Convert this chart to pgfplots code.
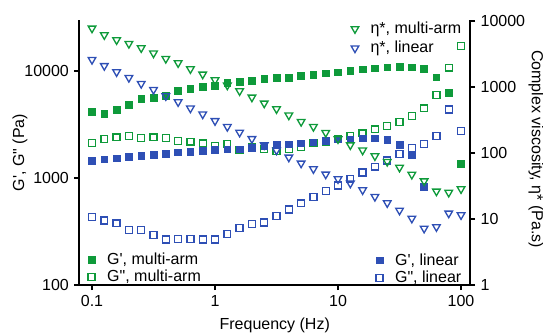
\documentclass[border=0pt]{standalone}
\usepackage{fontspec}
\newfontfamily\arial{Liberation Sans}
\usepackage{pgfplots}
\pgfplotsset{compat=1.18}
\usepackage{pgfplotstable}
\definecolor{mgreen}{RGB}{14,154,58}
\definecolor{lblue}{RGB}{46,79,181}

\pgfplotstableread{
f      Gm     Gpm    Gl    Gpl   Em    El
0.1    4140   2138   1442  432   7745  2592
0.1259 3963   2315   1495  402   6138  2095
0.1585 4323   2401   1528  377   5152  1687
0.1995 4814   2470   1582  326   4530  1383
0.2512 5474   2381   1616  326   3898  1122
0.3162 5593   2401   1641  293   3242  910
0.3981 5838   2381   1676  267   2684  731
0.5012 6505   2232   1739  268   2310  593
0.6310 6790   2185   1762  268   1874  476
0.7943 7087   2110   1788  267   1557  387
1      7290   1991   1827  267   1277  307
1.259  7723   2078   1854  300   1061  250
1.585  7946   1827   1854  339   870   205
1.995  8114   1950   1920  370   698   164
2.512  8420   1866   1983  384   566   132
3.162  8656   1800   2033  441   464   110
3.981  8656   1866   2065  508   373   86
5.012  8984   1962   2110  580   298   69.8
6.310  9180   2110   2157  664   250   57.3
7.943  9523   2185   2218  756   203   47.6
10     9720   2300   2300  851   163   40.4
12.59  10000  2470   2300  979   132   34.7
15.85  10375  2617   2350  1125  110   27.5
19.95  10600  2852   2350  1276  90    21.8
25.12  10834  3083   2265  1458  74    17.5
31.62  10965  3358   2033  1676  60.3  13.5
39.81  10834  3797   1630  1906  47.2  10.2
50.12  10440  4480   829   2078  37.6  7.2
63.10  8735   5970   nan   2470  26.3  7.6
79.43  6270   10740  nan   4368  25.2  12.2
100    1352   17230  nan   2749  28.5  11.5
}\data

\pgfplotsset{
  every axis/.append style={
    scale only axis, width=292.9pt, height=198.75pt,
    xmin=0.0791, xmax=118.4,
    xminorticks=false, yminorticks=false,
    tick align=outside, major tick length=3.75pt,
    major tick style={black, line width=1.4pt},
    axis line style={line width=1.5pt, black},
    tick label style={font=\arial\fontsize{12}{14}\selectfont},
    label style={font=\arial\fontsize{12}{14}\selectfont},
    legend style={draw=none, fill=none, font=\arial\fontsize{12}{14}\selectfont, row sep=-1.5pt, inner sep=0pt},
    legend cell align=left,
  },
}

\begin{document}
\arial\fontsize{12}{14}\selectfont
\begin{tikzpicture}
\path[use as bounding box] (-59.6pt,-36.75pt) rectangle (347.6pt,213.75pt);
% left axis: multi-arm moduli
\begin{loglogaxis}[
  ymin=100, ymax=29980,
  axis x line*=bottom, axis y line*=left,
  xtick={0.1,1,10,100}, xticklabels={0.1,1,10,100},
  ytick={100,1000,10000}, yticklabels={100,1000,10000},
  xlabel={Frequency (Hz)}, ylabel={G', G" (Pa)},
  every axis x label/.style={at={(axis description cs:0.5,-0.151)}, anchor=center},
  every axis y label/.style={at={(axis description cs:-0.152,0.5)}, rotate=90, anchor=center},
  legend image code/.code={\draw[#1] plot coordinates {(0pt,0pt)}; \path (-4pt,0pt) (9.5pt,0pt);},
  legend style={at={(axis description cs:0.016,-0.007)}, anchor=south west},
]
\addplot[only marks, mark=square*, mark size=2.5pt, mgreen, mark options={draw=mgreen, fill=mgreen, line width=0.5pt}] table[x=f, y=Gm] {\data};
\addlegendentry{G', multi-arm}
\addplot[only marks, mark=square, mark size=2.6pt, mgreen, mark options={draw=mgreen, line width=1pt}] table[x=f, y=Gpm] {\data};
\addlegendentry{G", multi-arm}
\end{loglogaxis}
% linear moduli (same scale, hidden axis)
\begin{loglogaxis}[
  ymin=100, ymax=29980, hide axis,
  legend image code/.code={\draw[#1] plot coordinates {(0pt,0pt)}; \path (-4pt,0pt) (9.5pt,0pt);},
  legend style={at={(axis description cs:0.985,-0.010)}, anchor=south east},
]
\addplot[only marks, mark=square*, mark size=2.5pt, lblue, mark options={draw=lblue, fill=lblue, line width=0.5pt}] table[x=f, y=Gl] {\data};
\addlegendentry{G', linear}
\addplot[only marks, mark=square, mark size=2.6pt, lblue, mark options={draw=lblue, line width=1pt}] table[x=f, y=Gpl] {\data};
\addlegendentry{G", linear}
\end{loglogaxis}
% right axis: complex viscosity
\begin{loglogaxis}[
  ymin=1, ymax=10350,
  axis x line=none, axis y line*=right,
  ytick={1,10,100,1000,10000}, yticklabels={1,10,100,1000,10000},
  ylabel={Complex viscosity, η* (Pa.s)},
  every axis y label/.style={at={(axis description cs:1.169,0.513)}, rotate=-90, anchor=center},
  legend image code/.code={\draw[#1] plot coordinates {(0pt,0pt)}; \path (-4pt,0pt) (9.5pt,0pt);},
  legend style={at={(axis description cs:0.985,1.004)}, anchor=north east, row sep=0pt},
]
\addplot[only marks, mark=triangle, mark size=3.3pt, mgreen, mark options={draw=mgreen, line width=1pt, rotate=180}] table[x=f, y=Em] {\data};
\addlegendentry{η*, multi-arm}
\addplot[only marks, mark=triangle, mark size=3.3pt, lblue, mark options={draw=lblue, line width=1pt, rotate=180}] table[x=f, y=El] {\data};
\addlegendentry{η*, linear}
\end{loglogaxis}
\end{tikzpicture}
\end{document}
